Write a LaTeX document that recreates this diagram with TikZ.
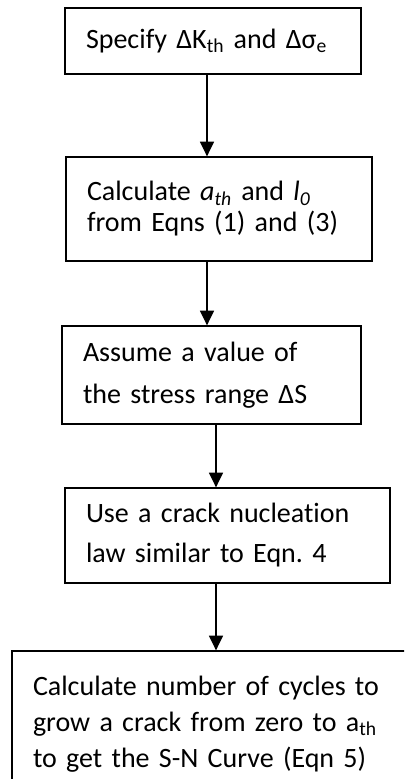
\documentclass[tikz,border=0pt]{standalone}
\usepackage{fontspec}
\setmainfont{Carlito}[RawFeature=-liga]
\usetikzlibrary{arrows.meta}
\tikzset{
  px/.style={x=0.75pt,y=-0.75pt},
  stepbox/.style n args={2}{draw=black, line width=1pt, rectangle, align=left,
    text width=#1*0.75pt-31.5pt, inner xsep=15.75pt, inner ysep=0pt,
    minimum height=#2*0.75pt, font=\fontsize{21}{23.25}\selectfont\frenchspacing},
  arr/.style={line width=1.1pt, -{Triangle[width=10.5pt,length=11pt]}}
}
\begin{document}
\begin{tikzpicture}[px]
\useasboundingbox (0,0) rectangle (404,779);
\clip (0,0) rectangle (404,779);
\node[stepbox={296}{66}] (b1) at (213,41) {Specify ΔK\textsubscript{th} and Δσ\textsubscript{e}};
\node[stepbox={306}{104}] (b2) at (219,209) {Calculate \textit{a\textsubscript{th}} and \textit{l\textsubscript{0}}\\from Eqns (1) and (3)};
\node[stepbox={299}{98}] (b3) at (211.5,375) {Assume a value of\\[8.25pt]the stress range ΔS};
\node[stepbox={325}{95}] (b4) at (227.5,535.5) {Use a crack nucleation\\[6.75pt]law similar to Eqn. 4};
\node[stepbox={408}{146}] (b5) at (216,724) {Calculate number of cycles to\\[3.75pt]grow a crack from zero to a\textsubscript{th}\\[3.75pt]to get the S-N Curve (Eqn 5)};
\draw[arr] (b1.south -| 207,0) -- (b2.north -| 207,0);
\draw[arr] (b2.south -| 207,0) -- (b3.north -| 207,0);
\draw[arr] (b3.south -| 216,0) -- (b4.north -| 216,0);
\draw[arr] (b4.south -| 216,0) -- (b5.north -| 216,0);
\end{tikzpicture}
\end{document}
